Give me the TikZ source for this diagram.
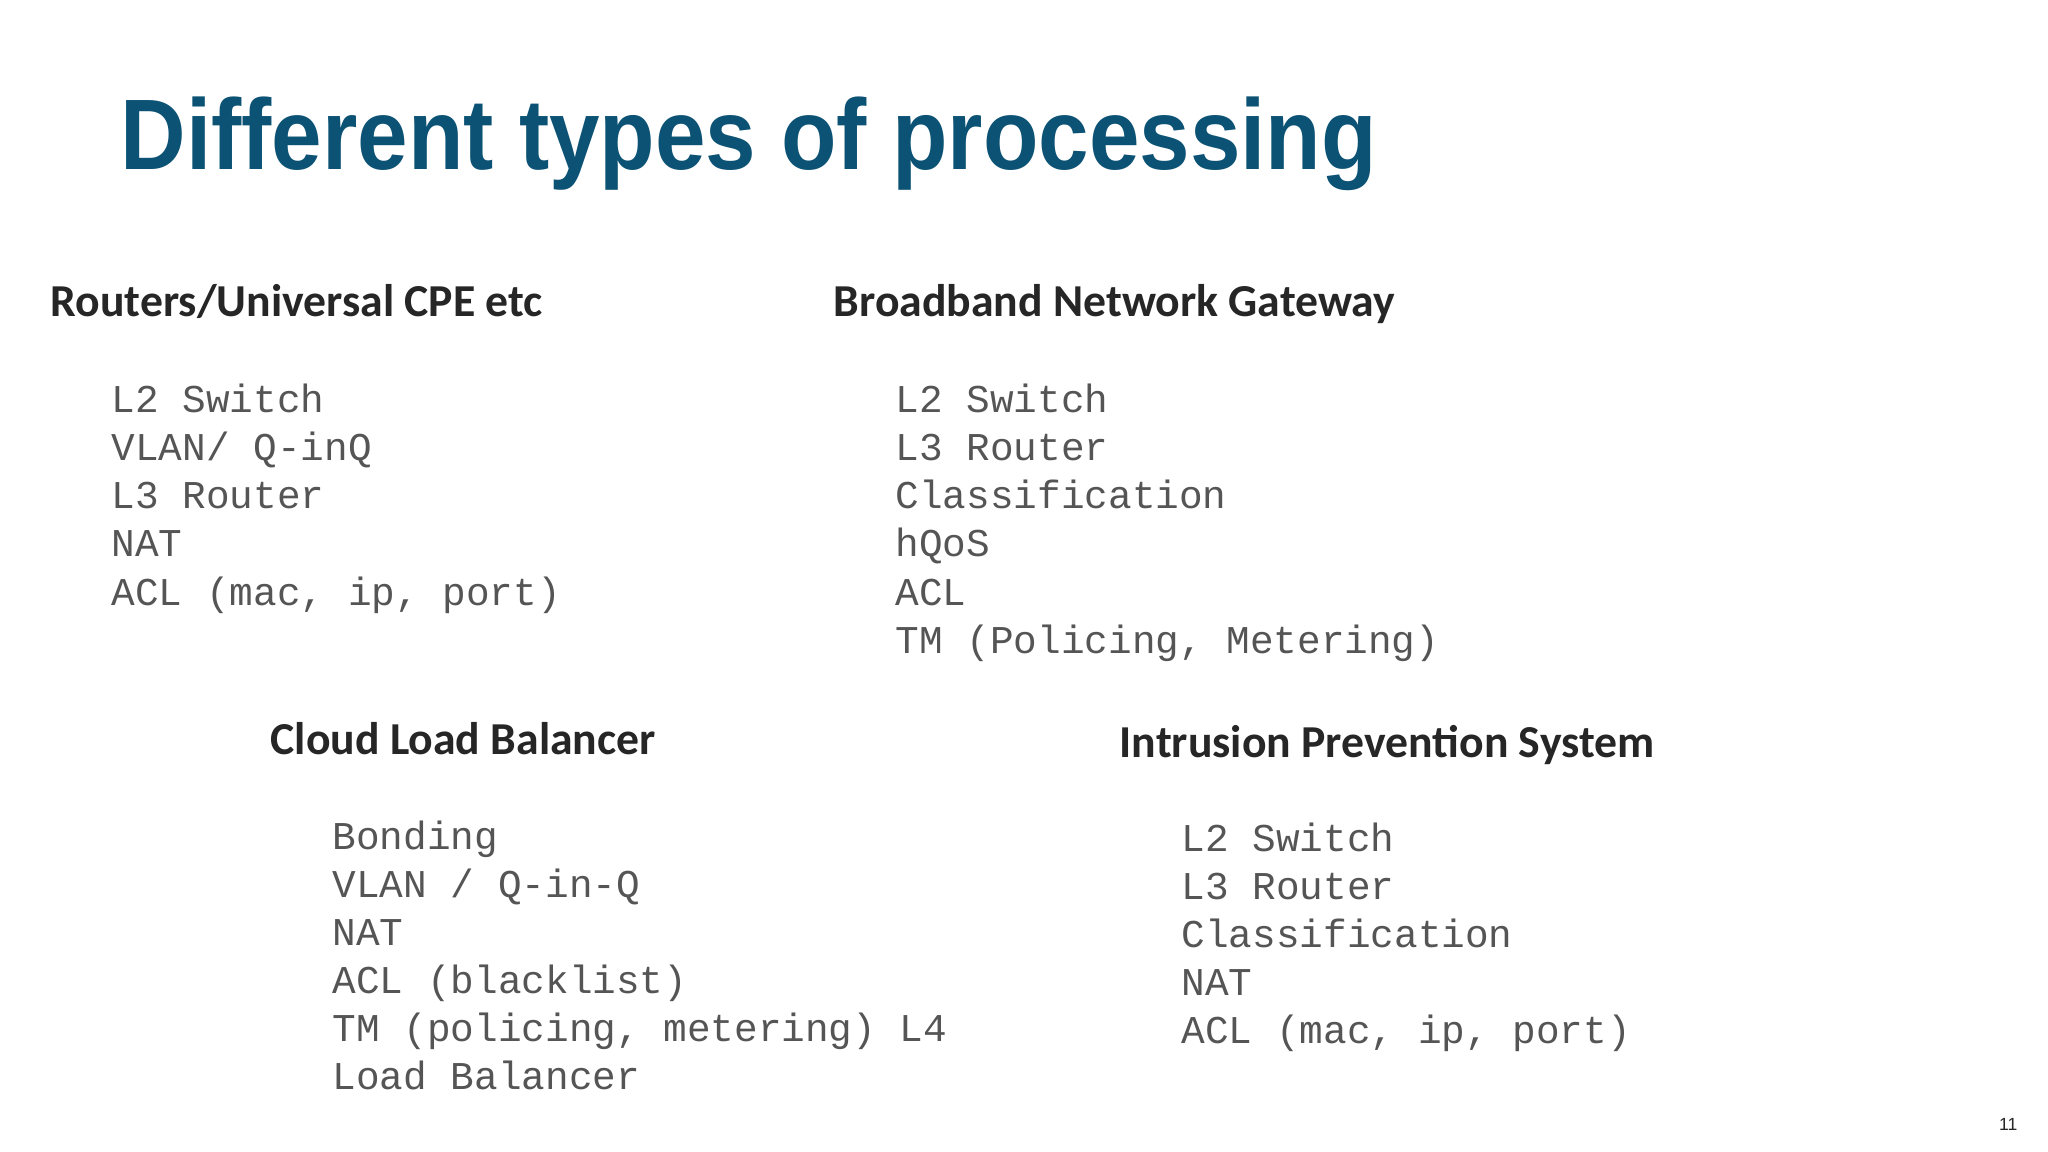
\documentclass[tikz,border=0pt]{standalone}
\usepackage{fontspec}
\setmainfont{Liberation Sans}
\newfontfamily\headfont{Carlito}
\newfontfamily\monofont{Liberation Mono}
\definecolor{titleblue}{HTML}{0B5274}
\definecolor{headgray}{HTML}{262626}
\definecolor{listgray}{HTML}{555555}
\begin{document}
\begin{tikzpicture}[x=0.01cm,y=-0.01cm,
  title/.style={anchor=base west,inner sep=0,font=\fontsize{28.5}{34}\selectfont\bfseries,text=titleblue},
  head/.style={anchor=base west,inner sep=0,font=\headfont\fontsize{13}{15}\selectfont\bfseries,text=headgray},
  item/.style={anchor=base west,inner sep=0,font=\monofont\fontsize{11.2}{13}\selectfont,text=listgray}]
\fill[white] (0,0) rectangle (2048,1152);
\node[title,xscale=0.906] (t) at (120,170) {Different types of processing};
\node[head] (h1) at (50,317) {Routers/Universal CPE etc};
\node[head] (h2) at (833,317) {Broadband Network Gateway};
\node[head] (h3) at (270,754) {Cloud Load Balancer};
\node[head] (h4) at (1119,757) {Intrusion Prevention System};
\foreach \t [count=\i] in {L2 Switch,VLAN/ Q-inQ,L3 Router,NAT,{ACL (mac, ip, port)}}
  \node[item] (a\i) at (111,413+48*\i-48) {\t};
\foreach \t [count=\i] in {L2 Switch,L3 Router,Classification,hQoS,ACL,{TM (Policing, Metering)}}
  \node[item] (b\i) at (895,413+48*\i-48) {\t};
\foreach \t [count=\i] in {Bonding,VLAN / Q-in-Q,NAT,ACL (blacklist),{TM (policing, metering) L4},Load Balancer}
  \node[item] (c\i) at (332,849+48*\i-48) {\t};
\foreach \t [count=\i] in {L2 Switch,L3 Router,Classification,NAT,{ACL (mac, ip, port)}}
  \node[item] (d\i) at (1181,851+48*\i-48) {\t};
\node[anchor=base east,inner sep=0,font=\fontsize{5}{6}\selectfont,text=headgray] (pg) at (2018,1130) {11};
\end{tikzpicture}
\end{document}
